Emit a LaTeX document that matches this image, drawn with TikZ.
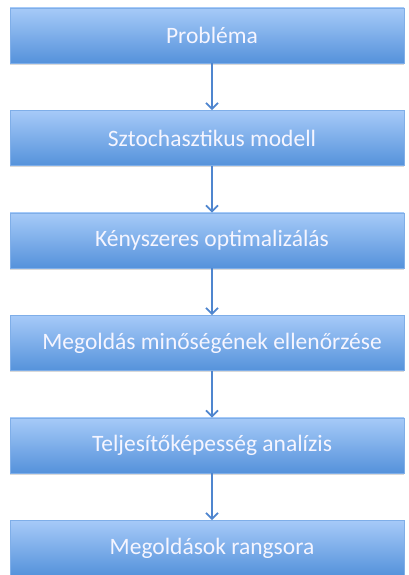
\documentclass[tikz,border=0pt]{standalone}
\usepackage{fontspec}
\setmainfont{Carlito}
\usetikzlibrary{arrows.meta,shadows}
\definecolor{boxtop}{HTML}{A6CAF8}
\definecolor{boxbot}{HTML}{5592DB}
\definecolor{boxline}{HTML}{7FAEE8}
\definecolor{arrowc}{HTML}{4F86CF}
\tikzset{
  stepbox/.style={draw=boxline, line width=0.6pt, top color=boxtop, bottom color=boxbot,
    minimum width=394pt, minimum height=55pt, inner sep=0pt,
    drop shadow={shadow xshift=0pt, shadow yshift=-2pt, opacity=0.25, fill=black!60}},
  flow/.style={draw=arrowc, line width=2.2pt, -{Straight Barb[length=6pt,width=12pt,line width=1.8pt]}},
  lbl/.style={text=white!96!blue, font=\fontsize{23.5}{26}\selectfont, inner sep=0pt}
}
\begin{document}
\begin{tikzpicture}[x=1pt,y=1pt]
\useasboundingbox (0,0) rectangle (409,575);
\foreach \i/\t in {1/Probléma,2/Sztochasztikus modell,3/Kényszeres optimalizálás,4/Megoldás minőségének ellenőrzése,5/Teljesítőképesség analízis,6/Megoldások rangsora}{
  \pgfmathsetmacro{\yc}{575-(35.5+102.5*(\i-1))}
  \node[stepbox] (b\i) at (207,\yc) {};
  \node[lbl] (t\i) at (212,\yc) {\t};
}
\foreach \i [evaluate=\i as \j using int(\i+1)] in {1,...,5}{
  \coordinate (s\i) at ([xshift=5pt]b\i.south);
  \coordinate (e\i) at ([xshift=5pt]b\j.north);
  \draw[flow] (s\i) -- (e\i);
}
\end{tikzpicture}
\end{document}
